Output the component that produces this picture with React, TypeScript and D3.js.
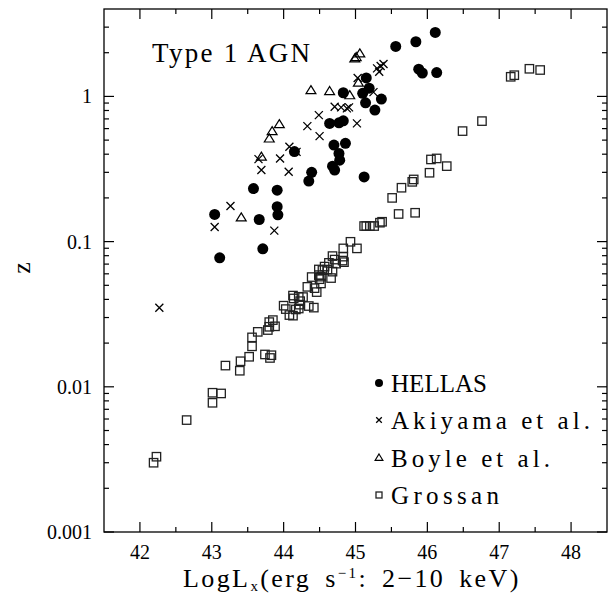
import React from "react";
import * as d3 from "d3";

// [log Lx, z]
const hellas: [number, number][] = [
  [46.11, 2.76], [45.84, 2.38], [45.56, 2.21], [45.88, 1.54], [45.93, 1.45], [46.13, 1.46],
  [45.15, 1.34], [44.83, 1.06], [45.1, 1.05], [45.19, 1.14], [45.36, 0.958], [45.14, 0.903],
  [45.27, 0.805], [44.64, 0.652], [44.77, 0.658], [44.83, 0.679], [44.7, 0.462], [44.86, 0.475],
  [44.77, 0.405], [44.78, 0.364], [44.68, 0.331], [44.71, 0.311], [44.15, 0.417], [44.39, 0.3],
  [44.35, 0.261], [45.12, 0.279], [43.58, 0.232], [43.91, 0.226], [43.04, 0.154], [43.66, 0.142],
  [43.91, 0.174], [43.92, 0.153], [43.71, 0.0892], [43.11, 0.0773],
];

const akiyama: [number, number][] = [
  [45.3, 1.56], [45.35, 1.62], [45.39, 1.67], [45.33, 1.48], [45.03, 1.34], [45.25, 1.07],
  [44.71, 0.848], [44.8, 0.84], [44.88, 0.827], [44.91, 0.84], [44.49, 0.743], [45.02, 0.652],
  [44.33, 0.624], [44.5, 0.533], [44.08, 0.45], [44.18, 0.415], [43.65, 0.37], [43.95, 0.374],
  [43.69, 0.311], [44.07, 0.303], [43.26, 0.176], [43.04, 0.126], [43.87, 0.119], [42.27, 0.035],
];

const boyle: [number, number][] = [
  [44.99, 1.83], [45.01, 1.87], [45.06, 1.98], [44.38, 1.105], [44.64, 1.09], [44.92, 1.02],
  [45.04, 1.245], [43.94, 0.645], [43.84, 0.577], [43.8, 0.514], [43.69, 0.385], [43.41, 0.147],
];

const grossan: [number, number][] = [
  [47.16, 1.365], [47.21, 1.4], [47.42, 1.55], [47.57, 1.52], [46.76, 0.676], [46.49, 0.577],
  [46.05, 0.368], [46.13, 0.374], [46.27, 0.331], [46.03, 0.298], [45.81, 0.268], [45.79, 0.258],
  [45.64, 0.235], [45.51, 0.2], [45.6, 0.155], [45.83, 0.158], [45.37, 0.137], [45.34, 0.135],
  [45.26, 0.128], [45.2, 0.128], [45.15, 0.128], [45.12, 0.128], [44.93, 0.0997], [44.83, 0.0898],
  [45.02, 0.0898], [44.68, 0.0795], [44.83, 0.0788], [44.71, 0.0752], [44.82, 0.074], [44.84, 0.0722],
  [44.73, 0.0705], [44.63, 0.0714], [44.57, 0.0673], [44.49, 0.0643], [44.54, 0.0636], [44.61, 0.0642],
  [44.68, 0.0621], [44.39, 0.057], [44.49, 0.0588], [44.52, 0.0574], [44.5, 0.0551], [44.66, 0.0561],
  [44.52, 0.0515], [44.33, 0.0488], [44.43, 0.0478], [44.46, 0.0449], [44.13, 0.0425], [44.14, 0.0406],
  [44.21, 0.0417], [44.27, 0.0415], [44.23, 0.0389], [44.22, 0.0368], [44.21, 0.0346], [44.0, 0.0362],
  [44.03, 0.0343], [44.17, 0.0341], [44.35, 0.036], [44.42, 0.0351], [44.08, 0.0312], [44.13, 0.0309],
  [43.85, 0.0288], [43.8, 0.0279], [43.8, 0.0259], [43.88, 0.0261], [43.78, 0.0246], [43.64, 0.0239],
  [43.56, 0.0219], [43.56, 0.019], [43.52, 0.0161], [43.4, 0.015], [43.39, 0.0129], [43.19, 0.014],
  [43.74, 0.0167], [43.83, 0.0165], [43.81, 0.0158], [43.01, 0.0091], [43.13, 0.009], [43.01, 0.00776],
  [42.65, 0.0059], [42.23, 0.0033], [42.19, 0.003],
];

const xMajorTicks = [42, 43, 44, 45, 46, 47, 48];
const xMinorTicks = [42.5, 43.5, 44.5, 45.5, 46.5, 47.5];
const yMajorTicks = [0.001, 0.01, 0.1, 1];
const yTickLabels = ["0.001", "0.01", "0.1", "1"];
const legendLabels = ["HELLAS", "Akiyama et al.", "Boyle et al.", "Grossan"];

const FONT = "'Liberation Serif', 'DejaVu Serif', serif";

function marker(kind: string, cx: number, cy: number, s: number, key: string | number) {
  if (kind === "circle") return <circle key={key} cx={cx} cy={cy} r={s} fill="#000" />;
  if (kind === "cross")
    return (
      <path key={key} d={`M${cx - s},${cy - s}L${cx + s},${cy + s}M${cx - s},${cy + s}L${cx + s},${cy - s}`}
        stroke="#000" strokeWidth={1.3} fill="none" />
    );
  if (kind === "tri")
    return (
      <path key={key} d={`M${cx},${cy - s}L${cx + s * 1.1},${cy + s * 0.8}L${cx - s * 1.1},${cy + s * 0.8}Z`}
        stroke="#000" strokeWidth={1.2} fill="none" />
    );
  return <rect key={key} x={cx - s} y={cy - s} width={2 * s} height={2 * s} stroke="#222" strokeWidth={1.3} fill="none" />;
}

export default function App() {
  const W = 608, H = 597;
  const left = 104, right = 607, top = 9, bottom = 532;
  const x = d3.scaleLinear().domain([41.5, 48.5]).range([left, right]);
  const y = d3.scaleLog().domain([0.001, 4]).range([bottom, top]);

  const yMinor: number[] = [];
  for (let e = -3; e <= 0; e++) for (let m = 2; m <= 9; m++) {
    const v = m * Math.pow(10, e);
    if (v < 4) yMinor.push(v);
  }

  const series: [string, [number, number][]][] = [
    ["sq", grossan], ["tri", boyle], ["cross", akiyama], ["circle", hellas],
  ];
  const sizes: Record<string, number> = { sq: 4.2, tri: 4.5, cross: 4, circle: 5.5 };
  const legendKinds = ["circle", "cross", "tri", "sq"];
  const legendSizes: Record<string, number> = { circle: 4, cross: 2.8, tri: 3.5, sq: 3 };
  const legendY = [383, 420, 457.5, 495];
  const legendW = [96, 199, 159, 108];

  return (
    <svg width={W} height={H} style={{ position: "absolute", left: 0, top: 0, background: "#fff" }}>
      <rect x={0} y={0} width={W} height={H} fill="#fff" />
      {/* ticks */}
      <g stroke="#000" strokeWidth={1.2}>
        {xMajorTicks.map((t) => (
          <g key={"xM" + t}>
            <line x1={x(t)} x2={x(t)} y1={bottom} y2={bottom - 10} />
            <line x1={x(t)} x2={x(t)} y1={top} y2={top + 10} />
          </g>
        ))}
        {xMinorTicks.map((t) => (
          <g key={"xm" + t}>
            <line x1={x(t)} x2={x(t)} y1={bottom} y2={bottom - 5} />
            <line x1={x(t)} x2={x(t)} y1={top} y2={top + 5} />
          </g>
        ))}
        {yMajorTicks.map((t) => (
          <g key={"yM" + t}>
            <line x1={left} x2={left + 10} y1={y(t)} y2={y(t)} />
            <line x1={right} x2={right - 10} y1={y(t)} y2={y(t)} />
          </g>
        ))}
        {yMinor.map((t) => (
          <g key={"ym" + t}>
            <line x1={left} x2={left + 5} y1={y(t)} y2={y(t)} />
            <line x1={right} x2={right - 5} y1={y(t)} y2={y(t)} />
          </g>
        ))}
      </g>
      <rect x={left} y={top} width={right - left} height={bottom - top} fill="none" stroke="#000" strokeWidth={1.3} />

      {/* data */}
      {series.map(([kind, data]) => (
        <g key={kind}>{data.map((d, i) => marker(kind, x(d[0]), y(d[1]), sizes[kind], i))}</g>
      ))}

      {/* tick labels */}
      <g fontFamily={FONT} fontSize={20} fill="#000">
        {xMajorTicks.map((t) => (
          <text key={"xl" + t} x={x(t)} y={559} textAnchor="middle">{t}</text>
        ))}
        {yMajorTicks.map((t, i) => (
          <text key={"yl" + t} x={92} y={y(t) + 7} textAnchor="end">{yTickLabels[i]}</text>
        ))}
      </g>

      {/* axis titles */}
      <text x={0} y={0} fontFamily={FONT} fontSize={26} transform="translate(30,268) rotate(-90)" textAnchor="middle">z</text>
      <text x={183} y={587} fontFamily={FONT} fontSize={26} letterSpacing={2.4} wordSpacing={5}>
        LogL<tspan dy={4} fontSize={15}>x</tspan><tspan dy={-4}>(erg s</tspan><tspan dy={-9} fontSize={15}>−1</tspan><tspan dy={9}>: 2−10 keV)</tspan>
      </text>

      {/* title */}
      <text x={152} y={61.5} fontFamily={FONT} fontSize={27} textLength={158} lengthAdjust="spacing">Type 1 AGN</text>

      {/* legend */}
      {legendLabels.map((lab, i) => (
        <g key={lab}>
          {marker(legendKinds[i], 379, legendY[i], legendSizes[legendKinds[i]], "lg" + i)}
          <text x={391} y={legendY[i] + 9} fontFamily={FONT} fontSize={25} textLength={legendW[i]} lengthAdjust="spacing">{lab}</text>
        </g>
      ))}
    </svg>
  );
}
